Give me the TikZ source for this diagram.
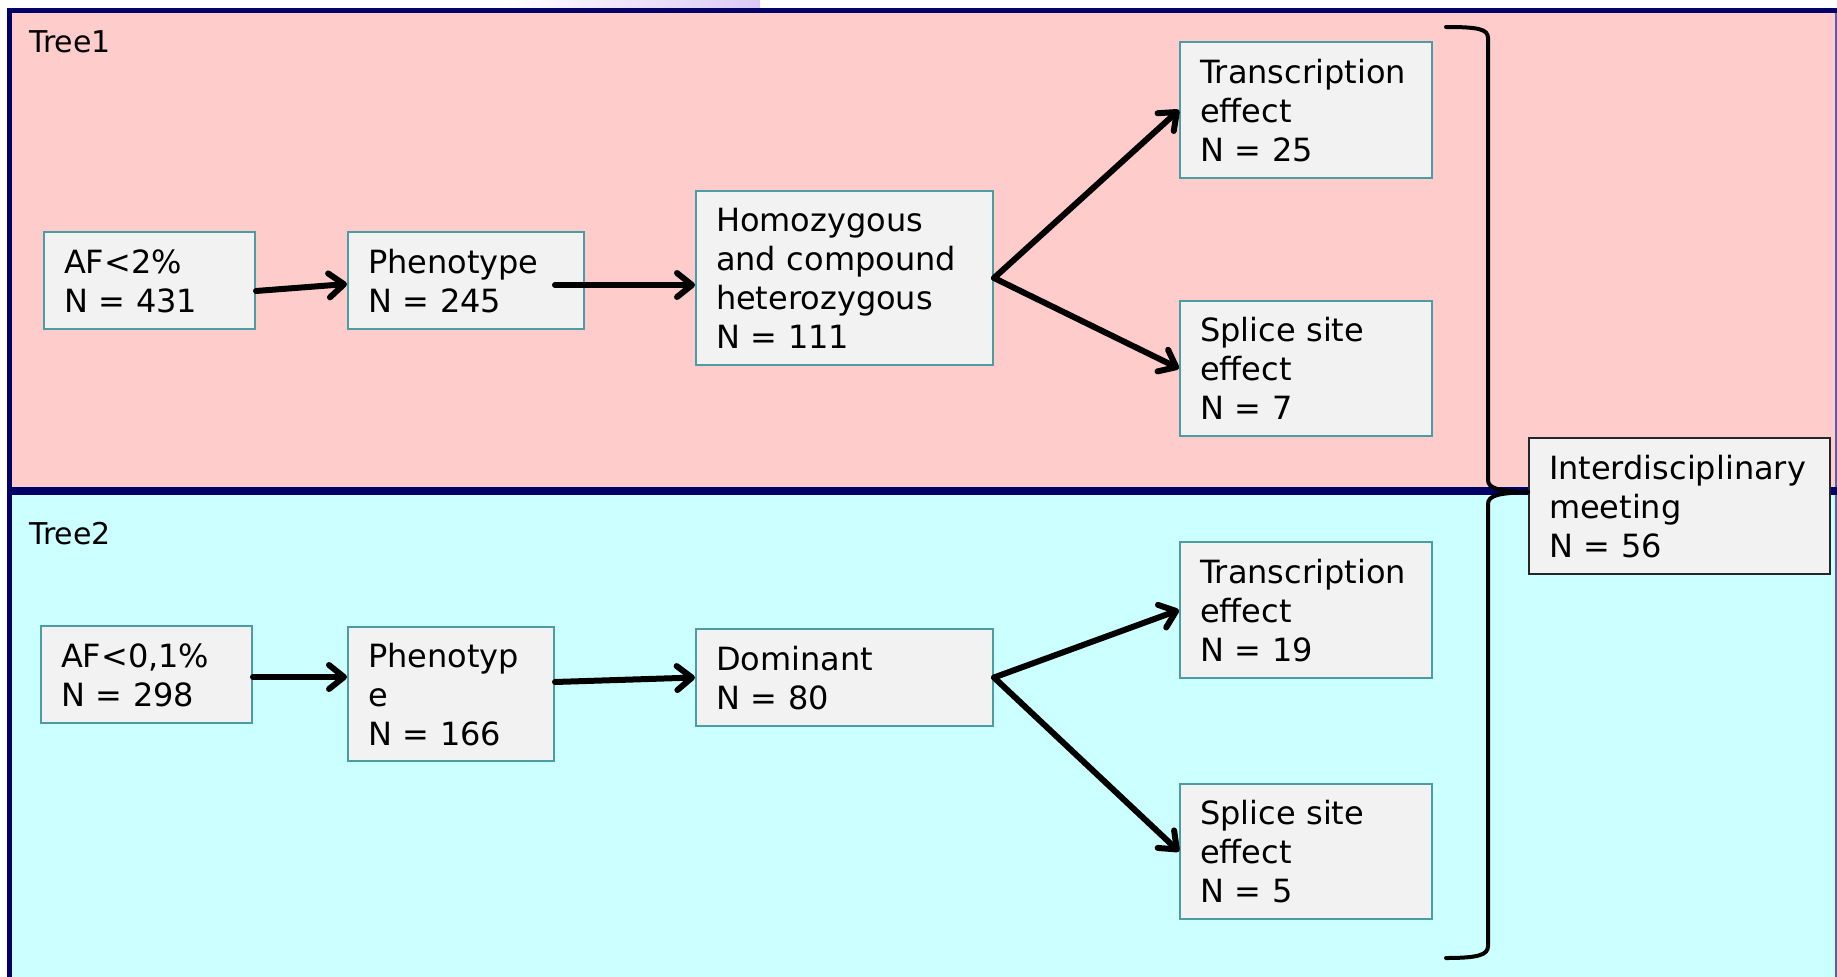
\documentclass[tikz,border=0pt]{standalone}
\usepackage{fontspec}
\setmainfont{DejaVu Sans}
\usetikzlibrary{arrows.meta}

\definecolor{pinkbg}{HTML}{FFCCCC}
\definecolor{cyanbg}{HTML}{CCFFFF}
\definecolor{framenavy}{HTML}{000066}
\definecolor{frameedge}{HTML}{5B5BA8}
\definecolor{boxfill}{HTML}{F2F2F2}
\definecolor{boxline}{HTML}{4B9CA3}
\definecolor{meetline}{HTML}{262626}
\definecolor{lilac}{HTML}{DCC8F5}

% text helpers: font, and struts for the first and last line of a box
\newcommand\boxfont{\fontsize{32pt}{39pt}\selectfont}
\newcommand\lineA{\rule{0pt}{36pt}}
\newcommand\lineZ{\rule[-11.7pt]{0pt}{11.7pt}}

\tikzset{
  box/.style={draw=boxline, line width=2pt, fill=boxfill, anchor=north west,
    inner xsep=20pt, inner ysep=0pt, align=left, font=\boxfont},
  meetbox/.style={box, draw=meetline},
  flow/.style={line width=6pt, line cap=round,
    -{Straight Barb[length=15pt,width=24pt,line cap=round,line join=round]}},
  brace/.style={line width=4pt, line cap=round},
  treelabel/.style={anchor=base west, inner sep=0pt, font=\fontsize{30pt}{36pt}\selectfont},
}

\begin{document}
\begin{tikzpicture}[x=1pt,y=-1pt]
\useasboundingbox (0,0) rectangle (1837,977);

% background panels and frame
\shade[left color=white, right color=lilac] (505,0) rectangle (760,8);
\fill[pinkbg] (9.5,10) rectangle (1837,491);
\fill[cyanbg] (9.5,491) rectangle (1837,977);
\draw[frameedge, line width=1.5pt] (1836,10) -- (1836,977);
\draw[framenavy, line width=5pt] (9.5,977) -- (9.5,10) -- (1837,10);
\draw[framenavy, line width=7.5pt] (9.5,491) -- (1837,491);

% Tree 1
\node[box, text width=171pt, minimum height=97pt] (af1) at (43,231)
  {\lineA AF<2\%\\N = 431\lineZ};
\node[box, text width=196pt, minimum height=97pt] (ph1) at (347,231)
  {\lineA Phenotype\\N = 245\lineZ};
\node[box, text width=257pt, minimum height=174pt] (hz1) at (695,190)
  {\lineA Homozygous\\and compound\\heterozygous\\N = 111\lineZ};
\node[box, text width=212pt, minimum height=136pt] (tr1) at (1179,41)
  {\lineA Transcription\\effect\\N = 25\lineZ};
\node[box, text width=212pt, minimum height=135pt] (sp1) at (1179,300)
  {\lineA Splice site\\effect\\N = 7\lineZ};

% Tree 2
\node[box, text width=171pt, minimum height=97pt] (af2) at (40,625)
  {\lineA AF<0,1\%\\N = 298\lineZ};
\node[box, text width=166pt, minimum height=134pt] (ph2) at (347,626)
  {\lineA Phenotyp\\e\\N = 166\lineZ};
\node[box, text width=257pt, minimum height=97pt] (dom) at (695,628)
  {\lineA Dominant\\N = 80\lineZ};
\node[box, text width=212pt, minimum height=136pt] (tr2) at (1179,541)
  {\lineA Transcription\\effect\\N = 19\lineZ};
\node[box, text width=212pt, minimum height=135pt] (sp2) at (1179,783)
  {\lineA Splice site\\effect\\N = 5\lineZ};

% panel titles
\node[treelabel] (t1) at (29,52) {Tree1};
\coordinate (t2pos) at ([yshift=81pt]af2.north west);
\node[treelabel] (t2) at (t1.base west |- t2pos) {Tree2};

% joint outcome
\node[meetbox, text width=261pt, minimum height=136pt] (meet) at (1528,437)
  {\lineA Interdisciplinary\\meeting\\N = 56\lineZ};

% flow arrows, tree 1
\draw[flow] ([yshift=-10.5pt]af1.east) -- ([yshift=-3.5pt]ph1.west);
\draw[flow] ([xshift=-30pt,yshift=-4.5pt]ph1.east) -- ([yshift=-7pt]hz1.west);
\draw[flow] (hz1.east) -- (tr1.west);
\draw[flow] (hz1.east) -- (sp1.west);

% flow arrows, tree 2
\draw[flow] ([yshift=-2.5pt]af2.east) -- ([yshift=17pt]ph2.west);
\draw[flow] ([yshift=12pt]ph2.east) -- (dom.west);
\draw[flow] (dom.east) -- (tr2.west);
\draw[flow] (dom.east) -- (sp2.west);

% brackets gathering both trees into the meeting
\coordinate (brTop) at (1446,27);
\coordinate (brBot) at (1446,958);
\coordinate (brTip) at ([yshift=14pt]meet.west);
\draw[brace] (brTop) .. controls (1478,27) and (1488,29) .. (1488,38)
  -- (1488,480) .. controls (1488,489) and (1500,491) .. (brTip);
\draw[brace] (brTip) .. controls (1500,493) and (1488,495) .. (1488,504)
  -- (1488,946) .. controls (1488,955) and (1478,958) .. (brBot);
\end{tikzpicture}
\end{document}
